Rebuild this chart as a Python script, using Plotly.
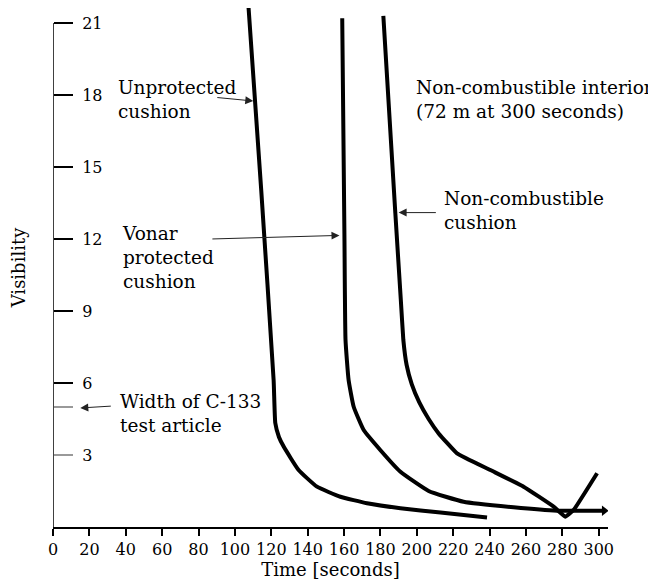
import plotly.graph_objects as go

# ---- data ----
unprot_x = [107.4, 114.5, 121.3, 122.2, 124.2, 126.8, 135.0, 145.1, 158.0, 172.6, 191.0, 213.0, 238.6]
unprot_y = [21.75, 14.0, 6.1, 4.33, 3.75, 3.35, 2.375, 1.68, 1.26, 0.99, 0.78, 0.60, 0.40]

vonar_x = [159.0, 160.2, 160.8, 162.5, 165.3, 170.8, 179.9, 191.0, 206.5, 225.7, 253.2, 277.1, 303.0]
vonar_y = [21.2, 12.2, 7.8, 6.125, 5.01, 4.04, 3.21, 2.3, 1.5, 1.05, 0.82, 0.68, 0.68]

noncomb_x = [181.6, 188.2, 191.2, 192.6, 194.4, 197.2, 201.3, 206.5, 212.0, 222.1, 240.4, 258.7, 275.2, 281.6, 286.2, 299.1]
noncomb_y = [21.3, 13.07, 9.46, 7.79, 6.75, 5.95, 5.2, 4.5, 3.9, 3.07, 2.375, 1.68, 0.85, 0.43, 0.71, 2.24]

x_ticks = [0, 20, 40, 60, 80, 100, 120, 140, 160, 180, 200, 220, 240, 260, 280, 300]
y_ticks_black = [6, 9, 12, 15, 18, 21]
y_ticks_gray = [3, 5]
y_ticks_gray_text = ["3", ""]

FONT = "DejaVu Serif"
YMAX = 21.625

fig = go.Figure()
line_style = dict(color="black", width=4)
fig.add_trace(go.Scatter(x=unprot_x, y=unprot_y, mode="lines", line=dict(**line_style, shape="spline", smoothing=0.4), showlegend=False))
fig.add_trace(go.Scatter(x=vonar_x, y=vonar_y, mode="lines", line=dict(**line_style, shape="spline", smoothing=0.4), showlegend=False))
fig.add_trace(go.Scatter(x=noncomb_x, y=noncomb_y, mode="lines", line=dict(**line_style, shape="spline", smoothing=0.3), showlegend=False))
fig.add_trace(go.Scatter(x=[vonar_x[-1]], y=[vonar_y[-1]], mode="markers",
                         marker=dict(symbol="triangle-right", size=9, color="black"), showlegend=False))
# tick-label axes (labels drawn to the right of the y axis line)
fig.add_trace(go.Scatter(x=[None], y=[None], yaxis="y2", showlegend=False))
fig.add_trace(go.Scatter(x=[None], y=[None], yaxis="y3", showlegend=False))

# y-axis line only from 0 to 21
fig.add_shape(type="line", xref="x", yref="y", x0=0, x1=0, y0=0, y1=21, line=dict(color="black", width=1.5))

def note(x, y, text, xanchor="left"):
    fig.add_annotation(x=x, y=y, xref="x", yref="y", text=text, showarrow=False,
                       xanchor=xanchor, yanchor="middle", align="left",
                       font=dict(family=FONT, size=18.5, color="black"))

def arrow(x0, y0, x1, y1):
    fig.add_annotation(x=x1, y=y1, ax=x0, ay=y0, xref="x", yref="y", axref="x", ayref="y",
                       text="", showarrow=True, arrowhead=2, arrowsize=1.6, arrowwidth=1,
                       arrowcolor="#222")

note(34.5, 17.8, "Unprotected<br>cushion")
note(36.8, 11.25, "Vonar<br>protected<br>cushion")
note(213.8, 13.2, "Non-combustible<br>cushion")
note(198.2, 17.8, "Non-combustible interior<br>(72 m at 300 seconds)")
note(35.8, 4.75, "Width of C-133<br>test article")

arrow(89.5, 17.9, 110.1, 17.75)
arrow(86.8, 12.0, 157.5, 12.15)
arrow(211.3, 13.1, 190.0, 13.1)
arrow(32.6, 5.04, 15.0, 4.96)

label_axis = dict(range=[0, YMAX], overlaying="y", anchor="free", position=0, side="right",
                  ticks="outside", ticklen=19, tickwidth=1.5, showline=False, showgrid=False,
                  zeroline=False, automargin=False, ticklabelstandoff=6)

fig.update_layout(
    width=656, height=583,
    margin=dict(l=45, r=56, t=0, b=64),
    paper_bgcolor="white", plot_bgcolor="white",
    font=dict(family=FONT, size=16, color="black"),
    xaxis=dict(range=[0, 305.1], tickvals=x_ticks, ticks="outside", ticklen=7, tickwidth=1.5,
               tickcolor="black", showline=True, linecolor="black", linewidth=1.5,
               showgrid=False, zeroline=False, automargin=False,
               title=dict(text="Time [seconds]", font=dict(family=FONT, size=18), standoff=0),
               tickfont=dict(family=FONT, size=16)),
    yaxis=dict(range=[0, YMAX], showticklabels=False, ticks="",
               showline=False, showgrid=False, zeroline=False, automargin=False,
               title=dict(text="Visibility", font=dict(family=FONT, size=18), standoff=22)),
    yaxis2=dict(**label_axis, tickvals=y_ticks_black, tickcolor="black",
                tickfont=dict(family=FONT, size=16, color="black")),
    yaxis3=dict(**label_axis, tickvals=y_ticks_gray, ticktext=y_ticks_gray_text, tickcolor="#999999",
                tickfont=dict(family=FONT, size=16, color="black")),
)

fig.write_html("out.html")
